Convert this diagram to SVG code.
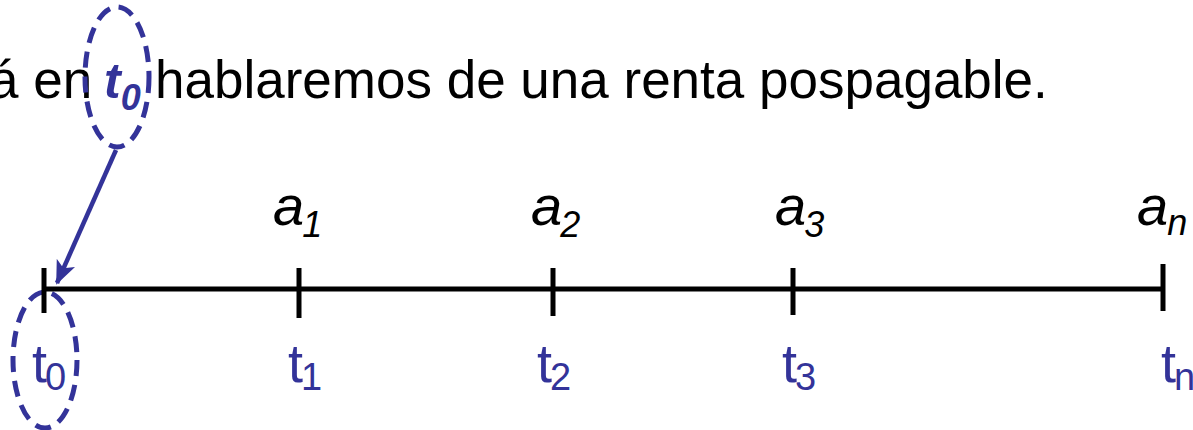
<svg xmlns="http://www.w3.org/2000/svg" width="1193" height="430" viewBox="0 0 1193 430">
<style>
.hdr{font-family:"Liberation Sans",Arial,sans-serif;font-size:53px;fill:#000}
.a{font-family:"Liberation Sans",Arial,sans-serif;font-style:italic;fill:#000}
.t{font-family:"Liberation Sans",Arial,sans-serif;fill:#333399}
.ell{fill:none;stroke:#333399;stroke-width:5;stroke-dasharray:16 9}
.axis{stroke:#000;stroke-width:5;fill:none}
</style>
<defs>
<marker id="arr" markerWidth="24" markerHeight="20" refX="22" refY="10" orient="auto" markerUnits="userSpaceOnUse">
<path d="M0,0 L24,10 L0,20 L6,10 z" fill="#333399"/>
</marker>
</defs>
<g id="heading">
<text class="hdr" x="-11" y="98">á en</text>
<text class="hdr" x="155" y="98">hablaremos de una renta pospagable.</text>
<text x="104" y="98" font-family="Liberation Sans, Arial, sans-serif" font-style="italic" font-weight="bold" font-size="50" fill="#333399">t<tspan font-size="36" dy="12">0</tspan></text>
</g>
<g id="ellipse-top"><ellipse class="ell" cx="117" cy="77" rx="32" ry="70"/></g>
<g id="ellipse-bottom"><ellipse class="ell" cx="45" cy="360" rx="32" ry="68"/></g>
<g id="connectors">
<line x1="116" y1="150" x2="57" y2="283" stroke="#333399" stroke-width="4.5" marker-end="url(#arr)"/>
</g>
<g id="timeline">
<line class="axis" x1="44" y1="289" x2="1163" y2="289"/>
<line class="axis" x1="44" y1="268" x2="44" y2="313"/>
<line class="axis" x1="299" y1="268" x2="299" y2="318"/>
<line class="axis" x1="553" y1="268" x2="553" y2="316"/>
<line class="axis" x1="793" y1="268" x2="793" y2="315"/>
<line class="axis" x1="1163" y1="264" x2="1163" y2="311"/>
</g>
<g id="a-labels">
<text class="a" x="273" y="225" font-size="56">a<tspan font-size="36" dy="12" dx="-2">1</tspan></text>
<text class="a" x="531" y="225" font-size="56">a<tspan font-size="36" dy="12" dx="-2">2</tspan></text>
<text class="a" x="775" y="225" font-size="56">a<tspan font-size="36" dy="12" dx="-2">3</tspan></text>
<text class="a" x="1137" y="225" font-size="56">a<tspan font-size="36" dy="10" dx="-1">n</tspan></text>
</g>
<g id="t-labels">
<text class="t" x="288" y="382" font-size="54">t<tspan font-size="38" dy="8" dx="-2">1</tspan></text>
<text class="t" x="537" y="382" font-size="54">t<tspan font-size="38" dy="8" dx="-2">2</tspan></text>
<text class="t" x="782" y="382" font-size="54">t<tspan font-size="38" dy="8" dx="-2">3</tspan></text>
<text class="t" x="1161" y="382" font-size="54">t<tspan font-size="38" dy="8" dx="-2">n</tspan></text>
<text class="t" x="32" y="382" font-size="54">t<tspan font-size="38" dy="8" dx="-2">0</tspan></text>
</g>
</svg>
